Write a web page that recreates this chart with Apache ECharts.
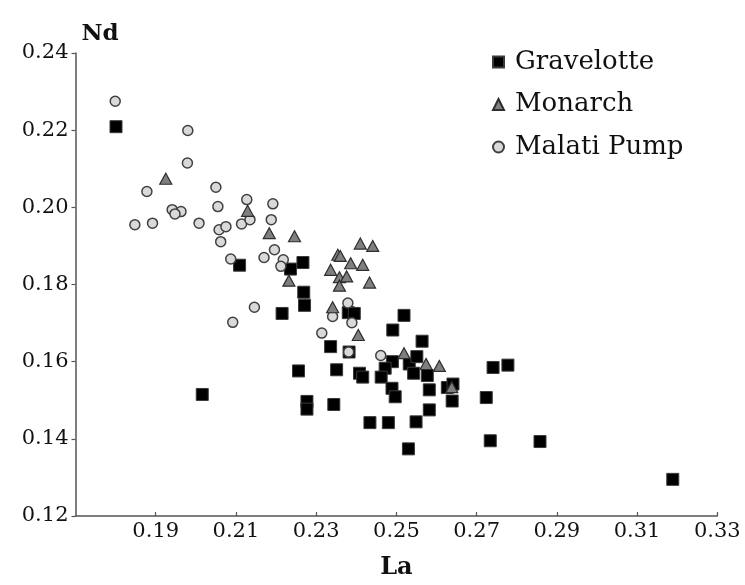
<!DOCTYPE html>
<html>
<head>
<meta charset="utf-8">
<script src="https://cdn.jsdelivr.net/npm/echarts@6/dist/echarts.min.js"></script>
<style>
html,body{margin:0;padding:0;background:#fff;}
#chart{width:745px;height:585px;}
</style>
</head>
<body>
<div id="chart"></div>
<script>
// La (x) and Nd (y) values
const seriesNames = ['Gravelotte', 'Monarch', 'Malati Pump'];

const gravelotteLa = [0.1801,0.2016,0.2109,0.2236,0.2267,0.2269,0.2271,0.2215,0.2256,0.2277,0.2277,0.2344,0.2336,0.2351,0.2434,0.2380,0.2395,0.2382,0.2408,0.2416,0.2519,0.2491,0.2564,0.2490,0.2472,0.2462,0.2489,0.2497,0.2532,0.2551,0.2543,0.2577,0.2582,0.2582,0.2549,0.2480,0.2530,0.2627,0.2641,0.2639,0.2724,0.2741,0.2778,0.2734,0.2858,0.3189];
const gravelotteNd = [0.2209,0.1515,0.1850,0.1840,0.1857,0.1780,0.1746,0.1725,0.1576,0.1497,0.1477,0.1489,0.1639,0.1579,0.1442,0.1727,0.1725,0.1625,0.1570,0.1560,0.1720,0.1682,0.1653,0.1600,0.1583,0.1560,0.1531,0.1509,0.1594,0.1613,0.1570,0.1564,0.1527,0.1475,0.1444,0.1442,0.1374,0.1533,0.1542,0.1498,0.1507,0.1585,0.1591,0.1395,0.1393,0.1295];

const monarchLa = [0.1925,0.2129,0.2183,0.2246,0.2232,0.2410,0.2441,0.2354,0.2360,0.2386,0.2416,0.2336,0.2358,0.2376,0.2358,0.2433,0.2341,0.2405,0.2519,0.2574,0.2607,0.2638];
const monarchNd = [0.2074,0.1991,0.1933,0.1925,0.1810,0.1906,0.1900,0.1877,0.1874,0.1855,0.1851,0.1838,0.1819,0.1821,0.1797,0.1805,0.1741,0.1669,0.1622,0.1594,0.1589,0.1534];

const malatiLa = [0.1799,0.1980,0.1979,0.1878,0.2050,0.2055,0.2127,0.1941,0.1963,0.1948,0.1848,0.1892,0.2008,0.2058,0.2075,0.2114,0.2135,0.2192,0.2188,0.2062,0.2087,0.2196,0.2170,0.2218,0.2212,0.2146,0.2092,0.2341,0.2314,0.2379,0.2389,0.2381,0.2461];
const malatiNd = [0.2275,0.2199,0.2115,0.2041,0.2052,0.2002,0.2020,0.1994,0.1989,0.1983,0.1955,0.1959,0.1959,0.1942,0.1950,0.1957,0.1968,0.2009,0.1968,0.1911,0.1866,0.1890,0.1870,0.1864,0.1847,0.1741,0.1702,0.1717,0.1674,0.1752,0.1701,0.1625,0.1616];

const xTickMin = 0.17, xTickMax = 0.33, xTickStep = 0.02;
const yTickMin = 0.12, yTickMax = 0.24, yTickStep = 0.02;

function pairs(xs, ys){ return xs.map((x,i)=>[x, ys[i]]); }

const FONT = '"DejaVu Serif", "Liberation Serif", serif';
const AXIS_COLOR = '#555';

const chart = echarts.init(document.getElementById('chart'), null, {renderer:'canvas'});
chart.setOption({
  animation: false,
  backgroundColor: '#fff',
  grid: {left: 75.5, right: 27.7, top: 53, bottom: 69, containLabel: false},
  legend: {
    orient: 'vertical',
    left: 492,
    top: 49,
    itemGap: 16.5,
    itemWidth: 11,
    itemHeight: 11,
    padding: 0,
    data: seriesNames,
    textStyle: {fontFamily: FONT, fontSize: 26, color: '#111', padding: [0,0,0,6]}
  },
  xAxis: {
    type: 'value',
    min: xTickMin, max: xTickMax, interval: xTickStep,
    name: 'La',
    nameLocation: 'middle',
    nameGap: 40,
    nameTextStyle: {fontFamily: FONT, fontSize: 24, fontWeight: 'bold', color: '#111', verticalAlign: 'top'},
    axisLine: {lineStyle: {color: AXIS_COLOR, width: 1.5}},
    axisTick: {show: true, inside: true, length: 4, lineStyle: {color: AXIS_COLOR, width: 1.2}},
    axisLabel: {showMinLabel: false, margin: 5, fontFamily: FONT, fontSize: 21, color: '#111',
      formatter: v => v.toFixed(2)},
    splitLine: {show: false}
  },
  yAxis: {
    type: 'value',
    min: yTickMin, max: yTickMax, interval: yTickStep,
    name: 'Nd',
    nameLocation: 'end',
    nameGap: 7,
    nameTextStyle: {fontFamily: FONT, fontSize: 23, fontWeight: 'bold', color: '#111', align: 'left', verticalAlign: 'bottom', padding: [0,0,0,6]},
    axisLine: {show: true, lineStyle: {color: AXIS_COLOR, width: 1.5}},
    axisTick: {show: true, inside: false, length: 4, lineStyle: {color: AXIS_COLOR, width: 1.2}},
    axisLabel: {margin: 7, fontFamily: FONT, fontSize: 21, color: '#111',
      formatter: v => v.toFixed(2)},
    splitLine: {show: false}
  },
  series: [
    {
      name: seriesNames[0], type: 'scatter', z: 2,
      symbol: 'rect', symbolSize: 12,
      itemStyle: {color: '#000', borderColor: '#3a3a3a', borderWidth: 1, opacity: 1},
      data: pairs(gravelotteLa, gravelotteNd)
    },
    {
      name: seriesNames[1], type: 'scatter', z: 4,
      symbol: 'triangle', symbolSize: [12, 11],
      itemStyle: {color: '#7f7f7f', borderColor: '#2e2e2e', borderWidth: 1.2, opacity: 1},
      data: pairs(monarchLa, monarchNd)
    },
    {
      name: seriesNames[2], type: 'scatter', z: 3,
      symbol: 'circle', symbolSize: 10,
      itemStyle: {color: '#d9d9d9', borderColor: '#404040', borderWidth: 1.5, opacity: 1},
      data: pairs(malatiLa, malatiNd)
    }
  ]
});
</script>
</body>
</html>
